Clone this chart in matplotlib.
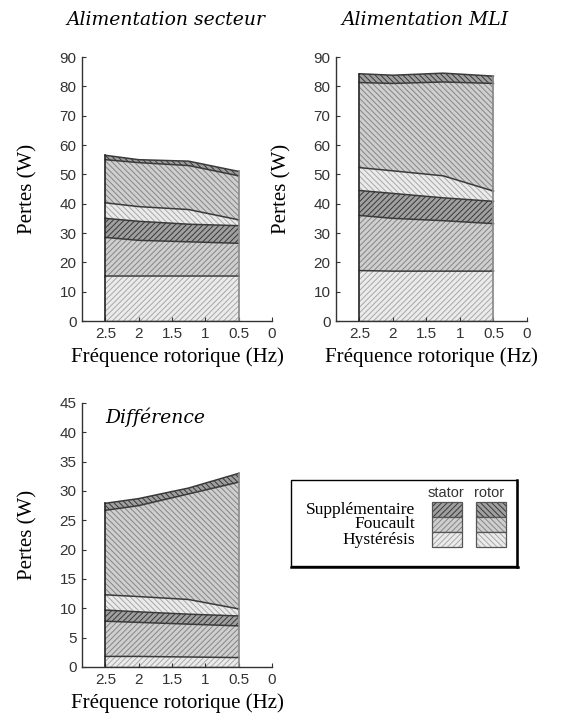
import matplotlib.pyplot as plt
from matplotlib.patches import Rectangle

plt.rcParams['hatch.linewidth'] = 0.7

# rotor frequency (Hz) where values were read
freq = [2.5, 2.0, 1.25, 0.5]

# component losses (W), bottom to top of each stack
# Alimentation secteur
sect_hyst_s = [15.5, 15.5, 15.5, 15.5]
sect_fouc_s = [13.0, 12.0, 11.5, 11.0]
sect_supp_s = [6.5, 6.5, 6.0, 6.0]
sect_hyst_r = [5.3, 5.0, 5.0, 2.0]
sect_fouc_r = [14.7, 15.0, 15.0, 15.0]
sect_supp_r = [1.5, 1.0, 1.5, 1.5]

# Alimentation MLI
mli_hyst_s = [17.2, 17.0, 17.0, 17.0]
mli_fouc_s = [18.8, 18.0, 17.2, 16.2]
mli_supp_s = [8.5, 8.5, 7.8, 7.6]
mli_hyst_r = [7.8, 7.7, 7.5, 3.5]
mli_fouc_r = [29.0, 29.8, 32.0, 36.7]
mli_supp_r = [3.0, 2.8, 3.0, 2.5]

# Différence
diff_hyst_s = [1.8, 1.8, 1.7, 1.6]
diff_fouc_s = [6.0, 5.8, 5.6, 5.4]
diff_supp_s = [1.9, 1.8, 1.7, 1.7]
diff_hyst_r = [2.6, 2.6, 2.5, 1.2]
diff_fouc_r = [14.4, 15.5, 18.0, 21.6]
diff_supp_r = [1.2, 1.2, 1.0, 1.5]

xticks = [2.5, 2, 1.5, 1, 0.5, 0]
xticklabels = ['2.5', '2', '1.5', '1', '0.5', '0']

# style of each layer: face colour, hatch colour, hatch
styles = [
    ('#ebebeb', '#a8a8a8', '//////'),   # hystérésis stator
    ('#cfcfcf', '#858585', '//////'),   # foucault stator
    ('#a0a0a0', '#383838', '//////'),   # supplémentaire stator
    ('#ebebeb', '#a8a8a8', '\\\\\\\\\\\\'),  # hystérésis rotor
    ('#cfcfcf', '#858585', '\\\\\\\\\\\\'),  # foucault rotor
    ('#a0a0a0', '#383838', '\\\\\\\\\\\\'),  # supplémentaire rotor
]

tick_font = {'family': 'Liberation Sans', 'size': 11, 'color': '#333333'}
serif = 'Liberation Serif'
title_font = {'family': 'DejaVu Serif', 'style': 'italic', 'size': 13.5}


def draw(ax, layers, ymax, ystep):
    bottom = [0.0] * len(freq)
    for vals, (fc, hc, h) in zip(layers, styles):
        top = [b + v for b, v in zip(bottom, vals)]
        ax.fill_between(freq, bottom, top, facecolor=fc, edgecolor=hc,
                        hatch=h, linewidth=0)
        ax.plot(freq, top, color='#3a3a3a', lw=1.1)
        bottom = top
    ax.plot(freq, [0] * len(freq), color='#555555', lw=1.0)
    ax.plot([freq[0], freq[0]], [0, bottom[0]], color='#222222', lw=1.2)
    ax.plot([freq[-1], freq[-1]], [0, bottom[-1]], color='#888888', lw=1.2)
    ax.set_xlim(2.85, 0)
    ax.set_ylim(0, ymax)
    ax.set_xticks(xticks)
    ax.set_xticklabels(xticklabels, fontdict=tick_font)
    yt = list(range(0, ymax + 1, ystep))
    ax.set_yticks(yt)
    ax.set_yticklabels([str(v) for v in yt], fontdict=tick_font)
    ax.tick_params(direction='in', length=3, width=0.8, color='#333333', pad=4)
    for s in ('top', 'right'):
        ax.spines[s].set_visible(False)
    for s in ('left', 'bottom'):
        ax.spines[s].set_color('#333333')
        ax.spines[s].set_linewidth(1.0)
    ax.set_ylabel('Pertes (W)', family=serif, size=15, labelpad=16)
    ax.set_xlabel('Fréquence rotorique (Hz)', family=serif, size=15, labelpad=5)


fig = plt.figure(figsize=(5.63, 7.22), dpi=100)

ax1 = fig.add_axes([0.1457, 0.5554, 0.3374, 0.3656])
draw(ax1, [sect_hyst_s, sect_fouc_s, sect_supp_s, sect_hyst_r, sect_fouc_r, sect_supp_r], 90, 10)
fig.text(0.295, 0.972, 'Alimentation secteur', ha='center', va='center', **title_font)

ax2 = fig.add_axes([0.5968, 0.5554, 0.3392, 0.3656])
draw(ax2, [mli_hyst_s, mli_fouc_s, mli_supp_s, mli_hyst_r, mli_fouc_r, mli_supp_r], 90, 10)
fig.text(0.755, 0.972, 'Alimentation MLI', ha='center', va='center', **title_font)

ax3 = fig.add_axes([0.1457, 0.0762, 0.3374, 0.3657])
draw(ax3, [diff_hyst_s, diff_fouc_s, diff_supp_s, diff_hyst_r, diff_fouc_r, diff_supp_r], 45, 5)
ax3.text(1.75, 42.6, 'Différence', ha='center', va='center', **title_font)

# legend box drawn in figure pixels
lg = fig.add_axes([0, 0, 1, 1], facecolor='none')
lg.set_xlim(0, 563)
lg.set_ylim(722, 0)
lg.axis('off')
lg.add_patch(Rectangle((291, 480), 226, 86, facecolor='white', edgecolor='black', lw=1.0))
lg.plot([517, 517], [480, 567], color='black', lw=1.8)
lg.plot([291, 518], [567, 567], color='black', lw=1.8)
lg.text(446, 493, 'stator', ha='center', va='center', family='Liberation Sans', size=10.5, color='#333333')
lg.text(489, 493, 'rotor', ha='center', va='center', family='Liberation Sans', size=10.5, color='#333333')
names = ['Supplémentaire', 'Foucault', 'Hystérésis']
row_order = [2, 1, 0]
for i, name in enumerate(names):
    y0 = 502 + 15 * i
    lg.text(415, y0 + 7.5, name, ha='right', va='center', family=serif, size=12.5)
    for j, x0 in enumerate([432, 476]):
        fc, hc, h = styles[row_order[i] + 3 * j]
        lg.add_patch(Rectangle((x0, y0), 30, 15, facecolor=fc, edgecolor=hc, hatch=h, lw=0))
        lg.add_patch(Rectangle((x0, y0), 30, 15, facecolor='none', edgecolor='#555555', lw=0.9))

fig.savefig('out.png', dpi=100)
